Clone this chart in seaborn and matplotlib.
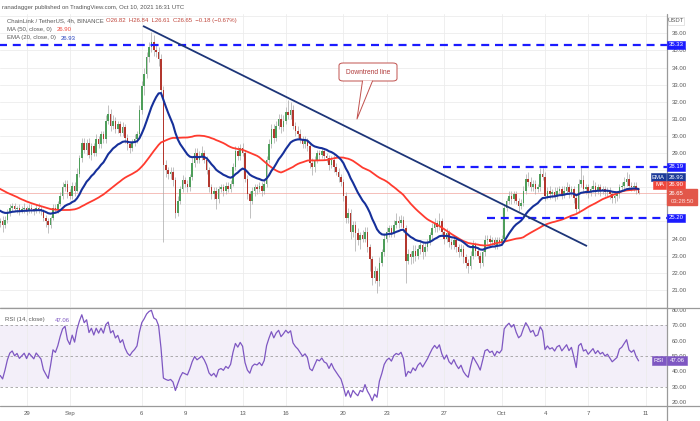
import numpy as np
import pandas as pd
import matplotlib
matplotlib.use("Agg")
import matplotlib.pyplot as plt
import seaborn as sns
from matplotlib.patches import Rectangle, FancyBboxPatch, Polygon
from matplotlib.lines import Line2D

# ---------------- data ----------------
# 4h closes before the visible window (Aug 18 - Aug 26), used only to warm up MA/EMA/RSI
warmup_close = [
    28.0, 28.3, 28.6, 28.4, 28.8, 28.6,
    28.6, 28.9, 29.2, 28.8, 29.0, 28.7,
    28.9, 29.3, 29.0, 28.6, 28.8, 28.4,
    28.2, 27.9, 28.1, 27.6, 27.8, 27.4,
    27.1, 27.3, 26.9, 26.6, 26.8, 26.5,
    26.8, 27.1, 27.0, 26.7, 26.4, 26.2,
    26.0, 25.7, 25.9, 25.5, 25.8, 25.6,
    25.4, 25.8, 25.6, 25.9, 25.7, 25.5,
    25.6, 25.3, 25.5, 25.2, 25.4, 25.1,
]

# visible 4h closes, Aug 27 00:00 -> Oct 10 12:00 (one row per day)
close = [
    24.9, 25.0, 24.8, 25.1, 25.5, 25.8,   # Aug 27
    25.9, 25.7, 25.8, 25.6, 25.7, 25.8,   # Aug 28
    25.6, 25.8, 25.7, 25.6, 25.8, 25.7,   # Aug 29
    25.6, 25.2, 25.0, 24.8, 25.2, 25.8,   # Aug 30
    25.7, 26.0, 26.5, 27.0, 27.2, 26.7,   # Aug 31
    26.5, 27.1, 26.8, 27.8, 28.7, 29.6,   # Sep 1
    29.2, 29.6, 28.9, 29.4, 29.0, 29.8,   # Sep 2
    29.5, 30.1, 29.8, 30.9, 31.3, 30.6,   # Sep 3
    30.9, 30.4, 30.7, 30.2, 30.5, 29.9,   # Sep 4
    29.5, 29.3, 29.6, 29.8, 30.1, 31.5,   # Sep 5
    32.9, 33.6, 34.6, 35.2, 35.5, 35.0,   # Sep 6
    34.9, 34.5, 32.7, 28.3, 28.0, 27.8,   # Sep 7
    27.9, 27.4, 25.5, 26.2, 26.9, 27.4,   # Sep 8
    27.2, 27.0, 27.6, 28.4, 29.0, 28.6,   # Sep 9
    28.8, 29.0, 28.6, 28.0, 27.0, 26.6,   # Sep 10
    26.8, 26.3, 26.9, 27.0, 26.8, 27.1,   # Sep 11
    26.9, 27.2, 28.2, 29.1, 28.8, 29.3,   # Sep 12
    29.0, 27.5, 26.6, 26.2, 26.8, 27.0,   # Sep 13
    26.9, 27.1, 26.8, 27.2, 28.6, 29.5,   # Sep 14
    30.4, 29.9, 30.6, 31.0, 30.5, 30.9,   # Sep 15
    31.4, 31.2, 31.5, 30.6, 30.3, 30.1,   # Sep 16
    29.8, 29.5, 29.7, 29.4, 28.4, 28.2,   # Sep 17
    28.6, 29.0, 28.9, 29.1, 28.8, 28.7,   # Sep 18
    28.3, 28.6, 28.2, 27.9, 27.6, 27.3,   # Sep 19
    26.5, 25.2, 25.5, 24.4, 24.8, 24.3,   # Sep 20
    23.9, 24.2, 24.0, 24.4, 23.5, 22.8,   # Sep 21
    21.7, 22.1, 21.5, 22.6, 23.2, 24.0,   # Sep 22
    24.4, 24.6, 24.3, 24.8, 25.0, 24.9,   # Sep 23
    25.1, 24.6, 22.7, 23.1, 22.9, 23.3,   # Sep 24
    23.0, 23.4, 23.6, 23.2, 23.5, 23.8,   # Sep 25
    24.2, 24.6, 24.9, 24.7, 25.0, 24.4,   # Sep 26
    24.0, 24.3, 23.8, 23.6, 23.9, 23.5,   # Sep 27
    23.2, 23.4, 22.9, 22.6, 22.4, 23.0,   # Sep 28
    23.6, 23.3, 23.0, 22.6, 23.2, 23.9,   # Sep 29
    24.0, 23.8, 23.9, 23.6, 23.9, 23.8,   # Sep 30
    24.0, 25.8, 26.2, 26.5, 26.3, 26.6,   # Oct 1
    26.2, 25.9, 26.1, 26.8, 27.5, 27.3,   # Oct 2
    27.0, 27.2, 26.9, 27.0, 27.8, 27.6,   # Oct 3
    26.5, 26.8, 26.6, 26.7, 26.5, 26.8,   # Oct 4
    26.9, 26.6, 26.8, 27.0, 26.7, 26.9,   # Oct 5
    26.4, 25.7, 27.2, 27.4, 26.9, 27.0,   # Oct 6
    26.7, 26.9, 27.1, 26.8, 27.0, 26.8,   # Oct 7
    26.9, 26.7, 26.8, 26.6, 26.4, 26.5,   # Oct 8
    26.6, 27.0, 27.1, 27.3, 27.5, 27.1,   # Oct 9
    27.0, 27.1, 26.83, 26.65,             # Oct 10
]

# upper / lower wick lengths in tenths of a dollar
wick_up = [
    2, 2, 3, 2, 2, 2,   2, 2, 1, 2, 2, 3,   1, 2, 2, 1, 2, 3,
    2, 1, 2, 2, 1, 2,   2, 2, 2, 3, 2, 2,   2, 2, 2, 3, 2, 3,
    3, 2, 3, 2, 2, 3,   2, 2, 2, 3, 5, 3,   3, 2, 2, 2, 3, 2,
    2, 2, 2, 3, 2, 3,   3, 4, 3, 3, 6, 4,   4, 3, 3, 2, 3, 2,
    3, 3, 2, 3, 2, 3,   2, 2, 2, 3, 3, 3,   3, 4, 2, 2, 2, 2,
    2, 2, 2, 2, 2, 2,   2, 2, 2, 3, 3, 2,   3, 2, 2, 2, 2, 2,
    2, 2, 2, 2, 2, 3,   3, 3, 3, 3, 3, 3,   3, 7, 5, 3, 2, 3,
    3, 2, 3, 2, 2, 3,   2, 2, 2, 2, 2, 2,   2, 2, 3, 2, 2, 2,
    2, 2, 3, 2, 2, 2,   3, 2, 3, 3, 3, 2,   2, 3, 2, 3, 2, 3,
    3, 2, 2, 3, 5, 3,   3, 2, 2, 3, 2, 3,   3, 2, 3, 2, 3, 2,
    2, 3, 3, 2, 5, 2,   2, 3, 2, 2, 3, 2,   2, 3, 2, 2, 2, 3,
    3, 2, 2, 2, 2, 3,   2, 2, 2, 2, 2, 2,   2, 2, 2, 3, 3, 2,
    2, 2, 2, 3, 3, 4,   3, 2, 2, 2, 3, 3,   3, 2, 3, 2, 3, 2,
    2, 2, 3, 3, 2, 2,   2, 2, 3, 8, 3, 2,   2, 2, 3, 2, 2, 2,
    2, 2, 2, 2, 2, 2,   2, 2, 2, 3, 4, 3,   2, 2, 2, 0.2,
]
wick_dn = [
    3, 2, 4, 2, 2, 2,   2, 1, 2, 2, 1, 2,   2, 1, 2, 2, 1, 2,
    2, 2, 3, 5, 2, 1,   2, 2, 1, 2, 2, 3,   2, 2, 3, 1, 2, 2,
    2, 3, 2, 3, 2, 2,   2, 2, 2, 2, 2, 3,   2, 2, 2, 2, 2, 3,
    3, 3, 2, 2, 2, 2,   2, 5, 2, 3, 3, 3,   3, 4, 3, 45, 4, 3,
    3, 3, 3, 2, 2, 2,   2, 3, 2, 2, 2, 2,   2, 2, 2, 2, 3, 3,
    3, 6, 2, 2, 3, 2,   2, 2, 1, 2, 2, 2,   2, 2, 3, 10, 2, 3,
    3, 2, 3, 2, 2, 2,   2, 3, 2, 2, 3, 2,   2, 2, 2, 2, 3, 2,
    2, 2, 2, 3, 3, 5,   3, 2, 3, 2, 2, 2,   3, 2, 3, 2, 3, 2,
    3, 3, 3, 4, 3, 10,  3, 5, 2, 2, 3, 7,   4, 3, 7, 3, 2, 2,
    2, 3, 2, 2, 2, 3,   2, 2, 13, 2, 4, 3,  3, 2, 3, 4, 2, 2,
    2, 2, 2, 3, 2, 2,   3, 2, 3, 2, 2, 3,   3, 2, 3, 3, 4, 2,
    2, 3, 2, 3, 2, 2,   2, 2, 2, 2, 2, 2,   2, 2, 2, 2, 3, 2,
    2, 3, 2, 2, 2, 2,   2, 2, 3, 2, 2, 2,   3, 2, 3, 2, 3, 2,
    2, 3, 2, 2, 3, 2,   3, 2, 2, 2, 2, 3,   3, 2, 2, 3, 2, 3,
    2, 2, 2, 3, 3, 3,   3, 2, 2, 2, 2, 2,   2, 2, 2, 0.4,
]

date_ticks = [12, 30, 60, 78, 102, 120, 144, 162, 186, 210, 228, 246, 270]
date_labels = ["29", "Sep", "6", "9", "13", "16", "20", "23", "27", "Oct", "4", "7", "11"]

levels = [35.33, 28.19, 25.20]
level_start = [0.0, 185.5, 203.8]
trend_x = [60.5, 245.5]
trend_y = [36.43, 23.56]

# ---------------- derived series ----------------
all_close = pd.Series(warmup_close + close, dtype=float)
n_w = len(warmup_close)
ma50 = all_close.rolling(50, min_periods=1).mean().values[n_w:]
ema20 = all_close.ewm(span=20, adjust=False).mean().values[n_w:]
d = all_close.diff()
gain = d.clip(lower=0).ewm(alpha=1 / 14, adjust=False).mean()
loss = (-d.clip(upper=0)).ewm(alpha=1 / 14, adjust=False).mean()
rsi = (100 - 100 / (1 + gain / loss)).values[n_w:]

c = np.array(close)
o = np.concatenate([[warmup_close[-1]], c[:-1]])
hi = np.maximum(o, c) + np.array(wick_up) / 10
lo = np.minimum(o, c) - np.array(wick_dn) / 10
idx = np.arange(len(c))

# ---------------- figure ----------------
sns.set_theme(style="white")
plt.rcParams["font.family"] = ["Liberation Sans", "DejaVu Sans"]
W, H = 700, 421
fig = plt.figure(figsize=(7, 4.21), dpi=100)
fig.patch.set_facecolor("white")


def fy(y):
    return 1 - y / H


ax_p = fig.add_axes([0, fy(308), 667 / W, (308 - 14) / H])
ax_r = fig.add_axes([0, fy(406), 667 / W, (406 - 308) / H])
XL = (0.917, 278.83)
GRID = "#ececec"
TXT = "#5a5a5a"
FS = 4.3

for ax in (ax_p, ax_r):
    ax.set_xlim(*XL)
    for s in ax.spines.values():
        s.set_visible(False)
    ax.set_xticks(date_ticks)
    ax.tick_params(axis="x", length=0)
    ax.yaxis.tick_right()
    ax.tick_params(axis="y", length=0, pad=3.2, labelsize=FS, labelcolor=TXT)
    ax.set_facecolor("white")

# price pane
ax_p.set_ylim(19.94, 37.13)
pt = list(range(20, 38))
ax_p.set_yticks(pt)
ax_p.set_yticklabels([f"{v:.2f}" if v in (21, 22, 23, 24, 29, 30, 31, 32, 33, 34, 35, 36) else "" for v in pt])
ax_p.set_xticklabels([])
ax_p.grid(True, color=GRID, lw=0.6)
ax_p.set_axisbelow(True)

ax_p.axhline(close[-1], color="#f4b4ae", lw=0.6, zorder=1)

up = c >= o
cols = np.where(up, "#4e9e5a", "#b3372e")
ax_p.vlines(idx, lo, hi, color="#a8a8a8", lw=0.5, zorder=2)
body = np.where(np.abs(c - o) < 0.04, 0.04, c - o)
ax_p.bar(idx, body, bottom=o, width=0.62, color=cols, linewidth=0, zorder=3)

sns.lineplot(x=idx, y=ma50, ax=ax_p, color="#ff3b2f", linewidth=1.3, zorder=4, legend=False)
sns.lineplot(x=idx, y=ema20, ax=ax_p, color="#16309a", linewidth=1.5, zorder=5, legend=False)

for lv, st in zip(levels, level_start):
    ax_p.plot([st, XL[1]], [lv, lv], color="#1b1bff", lw=1.6, ls=(0, (3.6, 2.6)), zorder=6)
ax_p.plot(trend_x, trend_y, color="#1d3578", lw=1.3, zorder=6, solid_capstyle="butt")

# RSI pane
ax_r.set_ylim(17.4, 81.3)
rt = [20, 30, 40, 50, 60, 70, 80]
ax_r.set_yticks(rt)
ax_r.set_yticklabels([f"{v:.2f}" for v in rt])
ax_r.grid(True, axis="x", color=GRID, lw=0.6)
ax_r.grid(False, axis="y")
ax_r.set_axisbelow(True)
ax_r.axhspan(30, 70, color="#7e57c2", alpha=0.09, lw=0, zorder=0)
for lv in (70, 50, 30):
    ax_r.axhline(lv, color="#a0a0a0", lw=0.6, ls=(0, (3, 3)), zorder=1)
sns.lineplot(x=idx, y=rsi, ax=ax_r, color="#7e57c2", linewidth=0.9, zorder=3, legend=False)
ax_r.set_xticklabels(date_labels)
ax_r.tick_params(axis="x", pad=3.6, labelsize=FS, labelcolor=TXT)

# separators
for y in (308, 406):
    fig.add_artist(Line2D([0, 1], [fy(y), fy(y)], color="#9a9a9a", lw=0.9, transform=fig.transFigure, zorder=7))
fig.add_artist(Line2D([667 / W, 667 / W], [fy(14), 0], color="#9a9a9a", lw=0.9, transform=fig.transFigure, zorder=7))


def box(x0, x1, y0, y1, color, text, tcolor="white", ec=None):
    fig.add_artist(Rectangle((x0 / W, fy(y1)), (x1 - x0) / W, (y1 - y0) / H, transform=fig.transFigure,
                             facecolor=color, edgecolor=ec if ec else color, lw=0.4, zorder=8))
    fig.text((x0 + x1) / 2 / W, fy((y0 + y1) / 2), text, color=tcolor, fontsize=FS,
             ha="center", va="center", zorder=9)


BLUE = "#1b1bff"
box(668, 684, 17, 25, "white", "USDT", tcolor=TXT, ec="#cfcfcf")
box(667, 685, 41, 49, BLUE, "35.33")
box(667, 685, 163, 171, BLUE, "28.19")
box(651, 666, 173, 181, "#1c3a99", "EMA")
box(667, 685, 173, 181, "#1c3a99", "26.93")
box(653, 666, 181, 189, "#f0473c", "MA")
box(667, 685, 181, 189, "#f0473c", "26.90")
fig.add_artist(Rectangle((667 / W, fy(205)), 30 / W, 16 / H, transform=fig.transFigure,
                         facecolor="#e2574a", edgecolor="#e2574a", zorder=8))
fig.text(676 / W, fy(193.5), "26.65", color="white", fontsize=FS, ha="center", va="center", zorder=9)
fig.text(682 / W, fy(201.5), "03:28:50", color="#ffe0dc", fontsize=FS, ha="center", va="center", zorder=9)
box(667, 685, 214, 222, BLUE, "25.20")
box(652, 666, 356, 365, "#7e57c2", "RSI")
box(667, 687, 356, 365, "#7e57c2", "47.06")

# header / legends
fig.text(2 / W, fy(7), "ranadagger published on TradingView.com, Oct 10, 2021 16:31 UTC",
         color="#555555", fontsize=FS, va="center")
fig.text(7 / W, fy(20.5), "ChainLink / TetherUS, 4h, BINANCE", color=TXT, fontsize=FS, va="center")
fig.text(106 / W, fy(20.5), "O26.82  H26.84  L26.61  C26.65  \u22120.18 (\u22120.67%)",
         color="#c0473d", fontsize=FS, va="center")
fig.text(7 / W, fy(29.5), "MA (50, close, 0)", color=TXT, fontsize=FS, va="center")
fig.text(57 / W, fy(29.5), "26.90", color="#f0473c", fontsize=FS, va="center")
fig.text(7 / W, fy(38), "EMA (20, close, 0)", color=TXT, fontsize=FS, va="center")
fig.text(61 / W, fy(38), "26.93", color="#2a45c0", fontsize=FS, va="center")
fig.text(5 / W, fy(320), "RSI (14, close)", color=TXT, fontsize=FS, va="center")
fig.text(55 / W, fy(320), "47.06", color="#7e57c2", fontsize=FS, va="center")

# callout
RED = "#c0504d"
fig.add_artist(FancyBboxPatch((339 / W, fy(81)), 58 / W, 18 / H, boxstyle="round,pad=0,rounding_size=0.006",
                              transform=fig.transFigure, facecolor="white", edgecolor=RED, lw=0.7, zorder=8))
fig.add_artist(Polygon([(362.5 / W, fy(80.6)), (372.5 / W, fy(80.6)), (357 / W, fy(119))], closed=True,
                       transform=fig.transFigure, facecolor="white", edgecolor="none", zorder=9))
fig.add_artist(Line2D([362.5 / W, 357 / W, 372.5 / W], [fy(81), fy(119), fy(81)], color=RED, lw=0.7,
                      transform=fig.transFigure, zorder=10))
fig.text(368 / W, fy(72), "Downtrend line", color="#b03a3a", fontsize=4.8, ha="center", va="center", zorder=11)

fig.savefig("out.png", dpi=100, facecolor="white")
